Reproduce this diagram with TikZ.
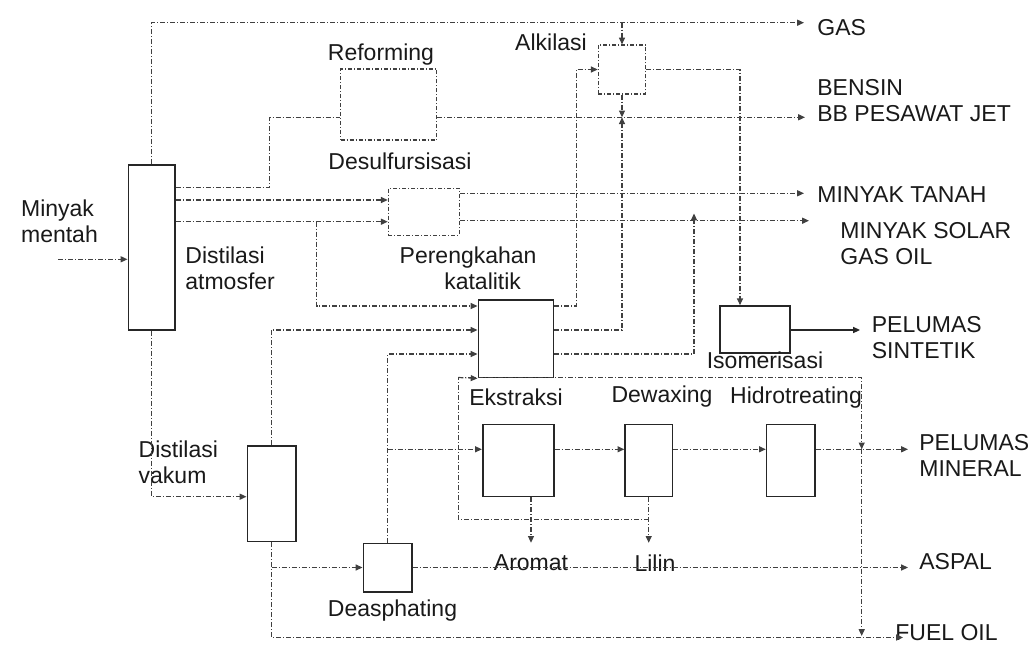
\documentclass[tikz,border=0pt]{standalone}
\usepackage{fontspec}
\setmainfont{Liberation Sans}
\usetikzlibrary{arrows.meta}

\begin{document}
\begin{tikzpicture}[x=0.5pt, y=-0.5pt,
    every node/.style={font=\fontsize{11.5}{13}\selectfont, text=black!90, inner sep=0pt},
    unit/.style={draw=black!85, line width=0.8pt},
    dunit/.style={draw=black!75, line width=0.55pt, dash pattern=on 2pt off 1pt on 0.5pt off 1pt},
    flow/.style={draw=black!75, line width=0.6pt, dash pattern=on 2.5pt off 1pt on 0.5pt off 1pt},
    >={Triangle[length=3.4pt,width=3pt]}]
\useasboundingbox (0,0) rectangle (1034,648);

% process units
\node[unit, minimum width=23.4pt, minimum height=82.5pt] (atm) at (151.7,247.5) {}; % atmospheric
\node[dunit, minimum width=48pt, minimum height=35.5pt] (reform) at (388.7,104.5) {};
\node[dunit, minimum width=35.5pt, minimum height=23.4pt] (desulf) at (423.8,211.7) {};
\node[dunit, minimum width=23.7pt, minimum height=24.5pt] (alkil) at (622,69.5) {};
\node[unit, minimum width=37.5pt, minimum height=38.8pt] (cat) at (515.8,338.8) {}; % cracking
\node[unit, minimum width=35pt, minimum height=23.5pt] (iso) at (755,329.5) {};
\node[unit, minimum width=24.2pt, minimum height=47.8pt] (vak) at (271.5,493.8) {}; % vacuum
\node[unit, minimum width=24.2pt, minimum height=24.2pt] (deas) at (387.5,567.5) {};
\node[unit, minimum width=35.6pt, minimum height=36.1pt] (ekstr) at (518.3,460.4) {};
\node[unit, minimum width=23.6pt, minimum height=36.1pt] (dewax) at (648.7,460.4) {};
\node[unit, minimum width=24.2pt, minimum height=36.1pt] (hidro) at (790.8,460.4) {};

% unit names
\node[anchor=west, align=left] (mentah) at (20.7,220.8) {Minyak\\mentah};
\node[anchor=west, align=left] (atmlbl) at (185,268.5) {Distilasi\\atmosfer};
\node (reflbl) at (381,55) {Reforming};
\node (deslbl) at (400,161) {Desulfursisasi};
\node (alklbl) at (551,42) {Alkilasi};
\node[anchor=west, align=left] (catlbl) at (399.3,268.5) {Perengkahan\\\hspace*{22.3pt}katalitik};
\node (isolbl) at (765,360.5) {Isomerisasi};
\node[anchor=west, align=left] (vaklbl) at (138.3,462.5) {Distilasi\\vakum};
\node (ekslbl) at (516,397) {Ekstraksi};
\node (dewlbl) at (662,397) {Dewaxing};
\node (hidlbl) at (796,398) {Hidrotreating};
\node (aromat) at (531,563) {Aromat};
\node (lilin) at (655,563) {Lilin};
\node (deaslbl) at (392.5,611) {Deasphating};

% products
\node[anchor=west] (gas) at (817,28) {GAS};
\node[anchor=west, align=left] (bensin) at (817,101) {BENSIN\\BB PESAWAT JET};
\node[anchor=west] (tanah) at (817,194.3) {MINYAK TANAH};
\node[anchor=west, align=left] (solar) at (840,243.3) {MINYAK SOLAR\\GAS OIL};
\node[anchor=west, align=left] (sintetik) at (871.5,337.5) {PELUMAS\\SINTETIK};
\node[anchor=west, align=left] (mineral) at (919,455.8) {PELUMAS\\MINERAL};
\node[anchor=west] (aspal) at (919,562) {ASPAL};
\node[anchor=west] (fuel) at (895,633) {FUEL OIL};

\coordinate (feed) at (58,259.3);
\coordinate (gasend) at (804,22.7);
\coordinate (bbend) at (805,117.3);
\coordinate (tanahend) at (804,193.3);
\coordinate (solarend) at (809,220.7);
\coordinate (sintend) at (860,330);
\coordinate (minend) at (908,449.3);
\coordinate (aspend) at (908,567.5);
\coordinate (fuelend) at (903,637.5);
\coordinate (loop) at (458.3,377.5);

% atmospheric distillation
\draw[flow,->] (feed) -- (atm.west|-feed);
\draw[flow,->] (atm.north) |- (gasend);
\draw[flow,->] (alkil.north|-gasend) -- (alkil.north);
\draw[flow] (atm.east|-0,187.7) -| (269.3,117.3) -- (reform.west|-0,117.3);
\draw[flow,->] (reform.east|-0,117.3) -- (bbend);
\draw[flow,->] (atm.east|-0,200) -- (desulf.west|-0,200);
\draw[flow,->] (atm.east|-0,221.7) -- (desulf.west|-0,221.7);
\draw[flow,->] (316.7,221.7) |- (cat.west|-0,306);
\draw[flow,->] (desulf.east|-tanahend) -- (tanahend);
\draw[flow,->] (desulf.east|-solarend) -- (solarend);

% cracking, alkylation, isomerisation
\draw[flow,->] (cat.east|-0,306) -| ([xshift=-10.8pt]alkil.west) -- (alkil.west);
\draw[flow,->] (alkil.south) -- (alkil.south|-bbend);
\draw[flow,->] (cat.east|-0,330) -| (alkil.south|-bbend);
\draw[flow,->] (alkil.east) -| ([xshift=-7.5pt]iso.north);
\draw[flow,->] (cat.east|-0,354) -| (694,213.5);
\draw[->, draw=black!85, line width=0.7pt] (iso.east|-sintend) -- (sintend);

% vacuum distillation
\draw[flow,->] (atm.south) |- (vak.west|-0,496.7);
\draw[flow,->] (vak.north) |- (cat.west|-0,330);
\draw[flow,->] (vak.south) |- (fuelend);
\draw[flow,->] (vak.south|-deas.west) -- (deas.west);
\draw[flow,->] (deas.north) |- (cat.west|-0,354);
\draw[flow,->] (deas.north|-0,449.3) -- (ekstr.west|-0,449.3);
\draw[flow,->] (deas.east) -- (aspend);

% lube oil line
\draw[flow,->] (ekstr.east|-0,449.3) -- (dewax.west|-0,449.3);
\draw[flow,->] (dewax.east|-0,449.3) -- (hidro.west|-0,449.3);
\draw[flow,->] (hidro.east|-minend) -- (minend);
\draw[flow,->] (ekstr.south-|aromat) -- ++(0,45.5);
\draw[flow,->] (dewax.south) -- ++(0,45.5);
\draw[flow] (dewax.south|-0,519.3) -| (loop);
\draw[flow,->] (loop) -- (cat.south west);
\draw[flow,->] (loop) -| (861.7,449.3);
\draw[flow,->] (861.7,449.3) -- (861.7,636);
\end{tikzpicture}
\end{document}
